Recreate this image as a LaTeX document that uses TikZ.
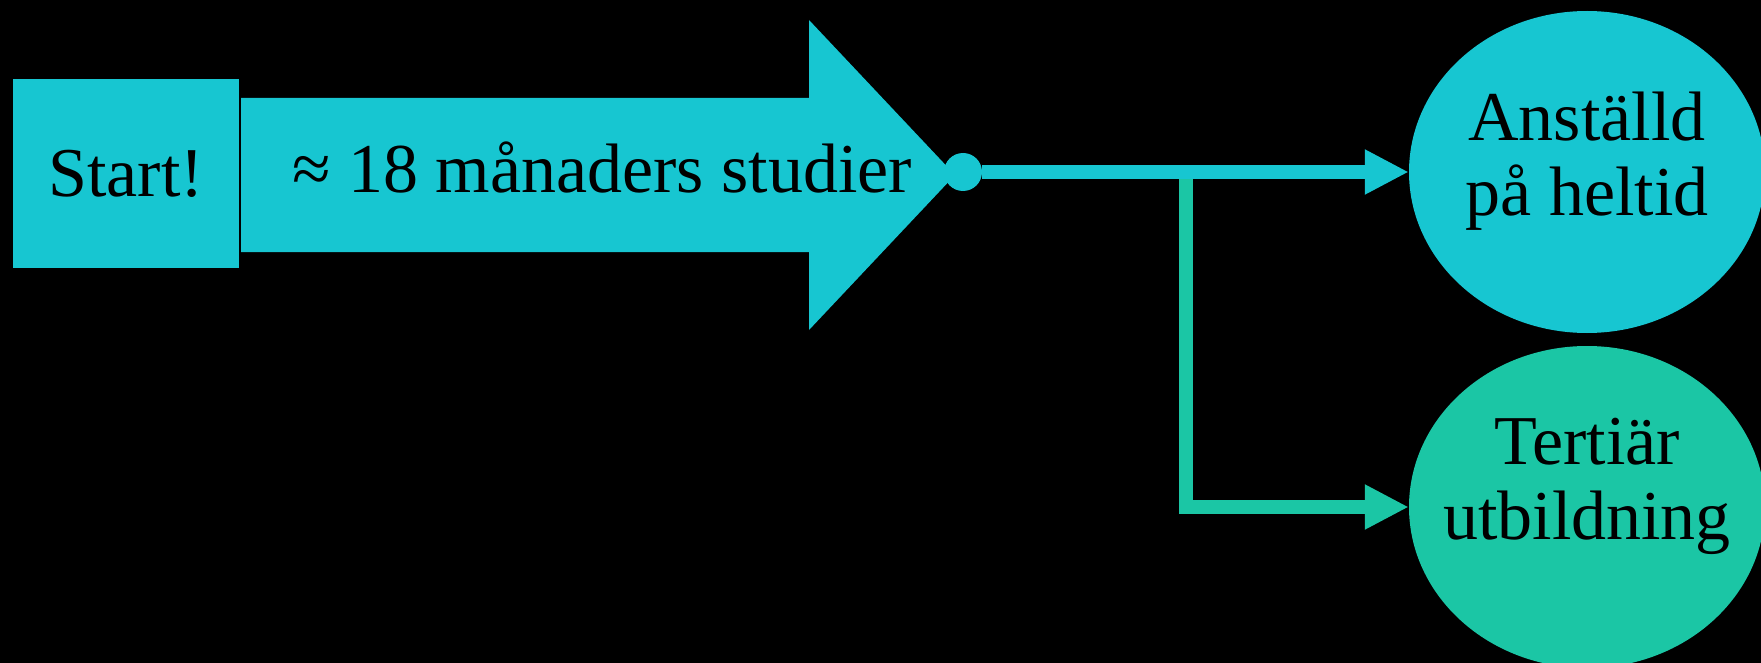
\documentclass[tikz,border=0pt]{standalone}
\usepackage{fontspec}
\setmainfont{Liberation Serif}
\usepackage{tikz}
\usetikzlibrary{shapes.geometric}
\usetikzlibrary{arrows.meta}
\definecolor{tealfill}{RGB}{23, 198, 209}
\definecolor{mintfill}{RGB}{27, 198, 165}
\tikzset{>={Triangle[length=44pt, width=42pt]}}
\tikzset{
    txt/.style={font=\fontsize{70}{75}\selectfont, text=black, inner sep=0pt},
    goal/.style={ellipse, minimum width=356pt, minimum height=322pt, inner sep=0pt},
    link/.style={line width=14pt, ->}
}

\begin{document}
\begin{tikzpicture}[x=1pt, y=-1pt]
    \clip(0, 0) rectangle (1761, 663);
    \fill[black](0, 0) rectangle (1761, 663);
    \node[fill=tealfill, minimum width=226pt, minimum height=189pt, txt](start) at (126, 173.5){Start!};
    \fill[tealfill](241, 98)--(809, 98)--(809, 20)--(955, 175)--(809, 330)--(809, 252)--(241, 252)--cycle;
    \node[txt, anchor=base](months) at (602, 193){≈ 18 månaders studier};
    \node[circle, fill=tealfill, minimum size=38pt, inner sep=0pt](dot) at (963, 172){};
    \node[goal, fill=tealfill](job) at (1587, 172){};
    \node[goal, fill=mintfill](uni) at (1587, 507){};
    \node[txt, align=center](jobtext) at (1587, 161){Anställd\\på heltid};
    \node[txt, align=center](unitext) at (1587, 486){Tertiär\\utbildning};
    \coordinate(split) at (1186, 172);
    \draw[link, mintfill](split) |- (uni);
    \draw[link, tealfill](dot) -- (job);
\end{tikzpicture}
\end{document}
